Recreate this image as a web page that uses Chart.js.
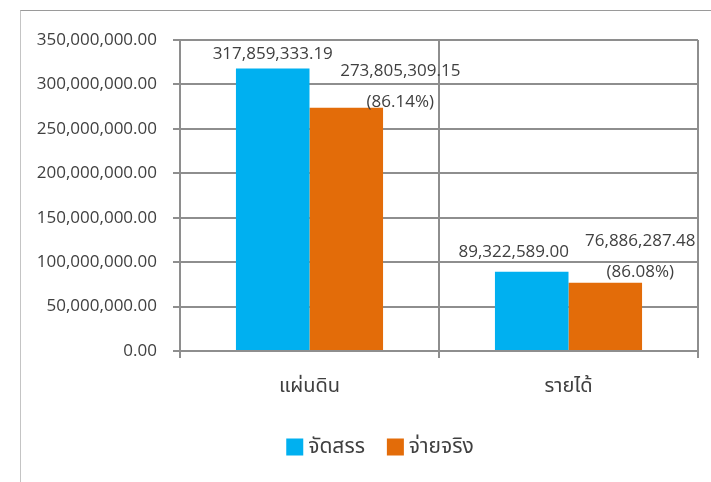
<!DOCTYPE html>
<html>
<head>
<meta charset="utf-8">
<script src="https://cdn.jsdelivr.net/npm/chart.js@4.4.1/dist/chart.umd.min.js"></script>
<style>
  html, body { margin: 0; padding: 0; background: #fff; }
  #frame {
    position: absolute; left: 20px; top: 10px;
    width: 691px; height: 472px;
    border-top: 1px solid #9a9a9a;
    border-left: 1px solid #c4c4c4;
    box-sizing: border-box;
  }
  #chart { display: block; }
</style>
</head>
<body>
<div id="frame"><canvas id="chart" width="690" height="471"></canvas></div>
<script>
/* ── Data ── */
const categories = ['แผ่นดิน', 'รายได้'];
const seriesNames = ['จัดสรร', 'จ่ายจริง'];
const allocated = [317859333.19, 89322589.00];
const paid = [273805309.15, 76886287.48];
const yTicks = [0, 50000000, 100000000, 150000000, 200000000, 250000000, 300000000, 350000000];

/* ── Styles ── */
const FONT = "'Open Sans', 'Noto Sans Thai', Tahoma, sans-serif";
const TEXT_COLOR = '#404040';
const GRID = '#8e8e8e';
const COLORS = ['#00b0f0', '#e36c09'];
// label offsets (dx, dy of first line from bar top-centre), per dataset / category
const LABEL_POS = [
  [{ dx: 0, dy: -14 }, { dx: -18, dy: -19 }],
  [{ dx: 54, dy: -37 }, { dx: 35, dy: -42 }]
];
const LINE_GAP = 31;
const PAD_LEFT = 10;
const LEGEND = { cx: 359, cy: 436, box: 17, gap: 5, spacing: 22, size: 21 };

const fmt = v => v.toLocaleString('en-US', { minimumFractionDigits: 2, maximumFractionDigits: 2 });

const barLabels = {
  id: 'barLabels',
  afterDatasetsDraw(chart) {
    const ctx = chart.ctx;
    ctx.save();
    ctx.font = '17px ' + FONT;
    ctx.fillStyle = TEXT_COLOR;
    ctx.textAlign = 'center';
    ctx.textBaseline = 'middle';
    chart.data.datasets.forEach((ds, di) => {
      chart.getDatasetMeta(di).data.forEach((bar, i) => {
        const p = LABEL_POS[di][i];
        const lines = [fmt(ds.data[i])];
        if (di === 1) lines.push('(' + (paid[i] / allocated[i] * 100).toFixed(2) + '%)');
        lines.forEach((t, k) => ctx.fillText(t, bar.x + p.dx, bar.y + p.dy + k * LINE_GAP));
      });
    });
    ctx.restore();
  }
};

// legend drawn by hand so it can sit off-centre like the original
const bottomLegend = {
  id: 'bottomLegend',
  afterDraw(chart) {
    const ctx = chart.ctx;
    ctx.save();
    ctx.font = LEGEND.size + 'px ' + FONT;
    ctx.textBaseline = 'middle';
    ctx.textAlign = 'left';
    const ds = chart.data.datasets;
    const widths = ds.map(d => LEGEND.box + LEGEND.gap + ctx.measureText(d.label).width);
    const total = widths.reduce((a, b) => a + b, 0) + LEGEND.spacing * (ds.length - 1);
    let x = LEGEND.cx - total / 2;
    ds.forEach((d, i) => {
      ctx.fillStyle = d.backgroundColor;
      ctx.fillRect(x, LEGEND.cy - LEGEND.box / 2, LEGEND.box, LEGEND.box);
      ctx.fillStyle = TEXT_COLOR;
      ctx.fillText(d.label, x + LEGEND.box + LEGEND.gap, LEGEND.cy);
      x += widths[i] + LEGEND.spacing;
    });
    ctx.restore();
  }
};

new Chart(document.getElementById('chart'), {
  type: 'bar',
  data: {
    labels: categories,
    datasets: [
      { label: seriesNames[0], data: allocated, backgroundColor: COLORS[0] },
      { label: seriesNames[1], data: paid, backgroundColor: COLORS[1] }
    ]
  },
  options: {
    responsive: false,
    animation: false,
    categoryPercentage: 0.568,
    barPercentage: 1.0,
    layout: { padding: { left: PAD_LEFT, right: 13, top: 29, bottom: 68 } },
    plugins: {
      legend: { display: false },
      tooltip: { enabled: false }
    },
    scales: {
      x: {
        grid: { color: GRID, lineWidth: 2, tickLength: 7, tickColor: GRID },
        border: { color: GRID, width: 2 },
        ticks: { color: TEXT_COLOR, font: { family: FONT, size: 20 }, padding: 16 }
      },
      y: {
        min: 0,
        max: 350000000,
        afterFit(scale) { scale.width = 159 - PAD_LEFT; },
        afterBuildTicks(scale) { scale.ticks = yTicks.map(v => ({ value: v })); },
        grid: { color: GRID, lineWidth: 2, tickLength: 7, tickColor: GRID },
        border: { color: GRID, width: 2 },
        ticks: {
          color: TEXT_COLOR,
          font: { family: FONT, size: 17 },
          padding: 16,
          callback: v => fmt(v)
        }
      }
    }
  },
  plugins: [barLabels, bottomLegend]
});
</script>
</body>
</html>
